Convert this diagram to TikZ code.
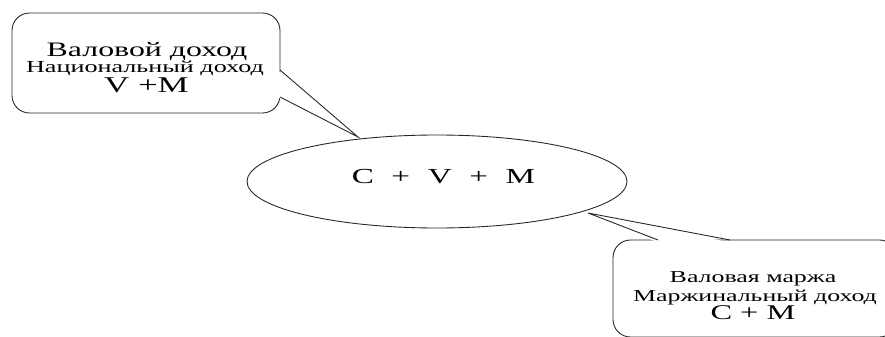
\documentclass[tikz,border=0pt]{standalone}
\usepackage{fontspec}
\setmainfont{Liberation Serif}
\newfontfamily\widefont[FakeStretch=1.55]{Liberation Serif}
\usetikzlibrary{shapes.geometric,calc}

\tikzset{
  callbox/.style={draw=black!85, line width=0.5pt, rounded corners=0.35cm, fill=white, inner sep=0pt, outer sep=0pt},
  calltail/.style={draw=black!85, line width=0.5pt, line join=miter},
  calltext/.style={anchor=base, inner sep=0pt, font=\widefont},
  sumoval/.style={draw=black!85, line width=0.5pt, ellipse, fill=white, inner sep=0pt, outer sep=0pt},
}

\begin{document}
\begin{tikzpicture}
    \useasboundingbox (0,0) rectangle (17.7,6.72);
    \clip (0,0) rectangle (17.7,6.72);
    % callout boxes
    \node[callbox, minimum width=5.36cm, minimum height=2cm] (grossbox) at (2.92,5.46) {};
    \node[callbox, minimum width=5.68cm, minimum height=1.94cm] (marginbox) at (15.10,0.95) {};
    % tails
    \coordinate (grosstip) at (7.16,3.98);
    \coordinate (margintip) at (11.76,2.46);
    \coordinate (grossa) at ($(grossbox.north east)+(0,-1.14)$);
    \coordinate (grossb) at ($(grossbox.north east)+(0,-1.68)$);
    \coordinate (margina) at ($(marginbox.north west)+(0.9,0)$);
    \coordinate (marginb) at ($(marginbox.north west)+(2.34,0)$);
    \fill[white] ($(grossa)+(-0.05,0)$) -- (grosstip) -- ($(grossb)+(-0.05,0)$) -- cycle;
    \draw[calltail] (grossa) -- (grosstip) -- (grossb);
    \fill[white] ($(margina)+(0,-0.05)$) -- (margintip) -- ($(marginb)+(0,-0.05)$) -- cycle;
    \draw[calltail] (margina) -- (margintip) -- (marginb);
    % the sum
    \node[sumoval, minimum width=7.6cm, minimum height=1.86cm] (sumnode) at (8.74,3.09) {};
    \node[calltext, font=\widefont\fontsize{12.2}{15}\selectfont] (sumtext) at ($(sumnode.center)+(0.13,-0.04)$)
        {C\hspace{10pt}+\hspace{10pt}V\hspace{10pt}+\hspace{10pt}M};
    % texts
    \node[calltext, font=\widefont\fontsize{11.7}{13}\selectfont] (grossone) at (2.94,5.59) {Валовой доход};
    \node[calltext, font=\widefont\fontsize{9.6}{12}\selectfont] (grosstwo) at (2.90,5.27) {Национальный доход};
    \node[calltext, font=\widefont\fontsize{12.8}{15}\selectfont] (grossthree) at (2.93,4.86) {V +M};
    \node[calltext, font=\widefont\fontsize{9.5}{11}\selectfont] (marginone) at (15.06,1.08) {Валовая маржа};
    \node[calltext, font=\widefont\fontsize{9.5}{11}\selectfont] (margintwo) at (15.10,0.70) {Маржинальный доход};
    \node[calltext, font=\widefont\fontsize{11.9}{15}\selectfont] (marginthree) at (15.06,0.34) {C + M};
\end{tikzpicture}
\end{document}
